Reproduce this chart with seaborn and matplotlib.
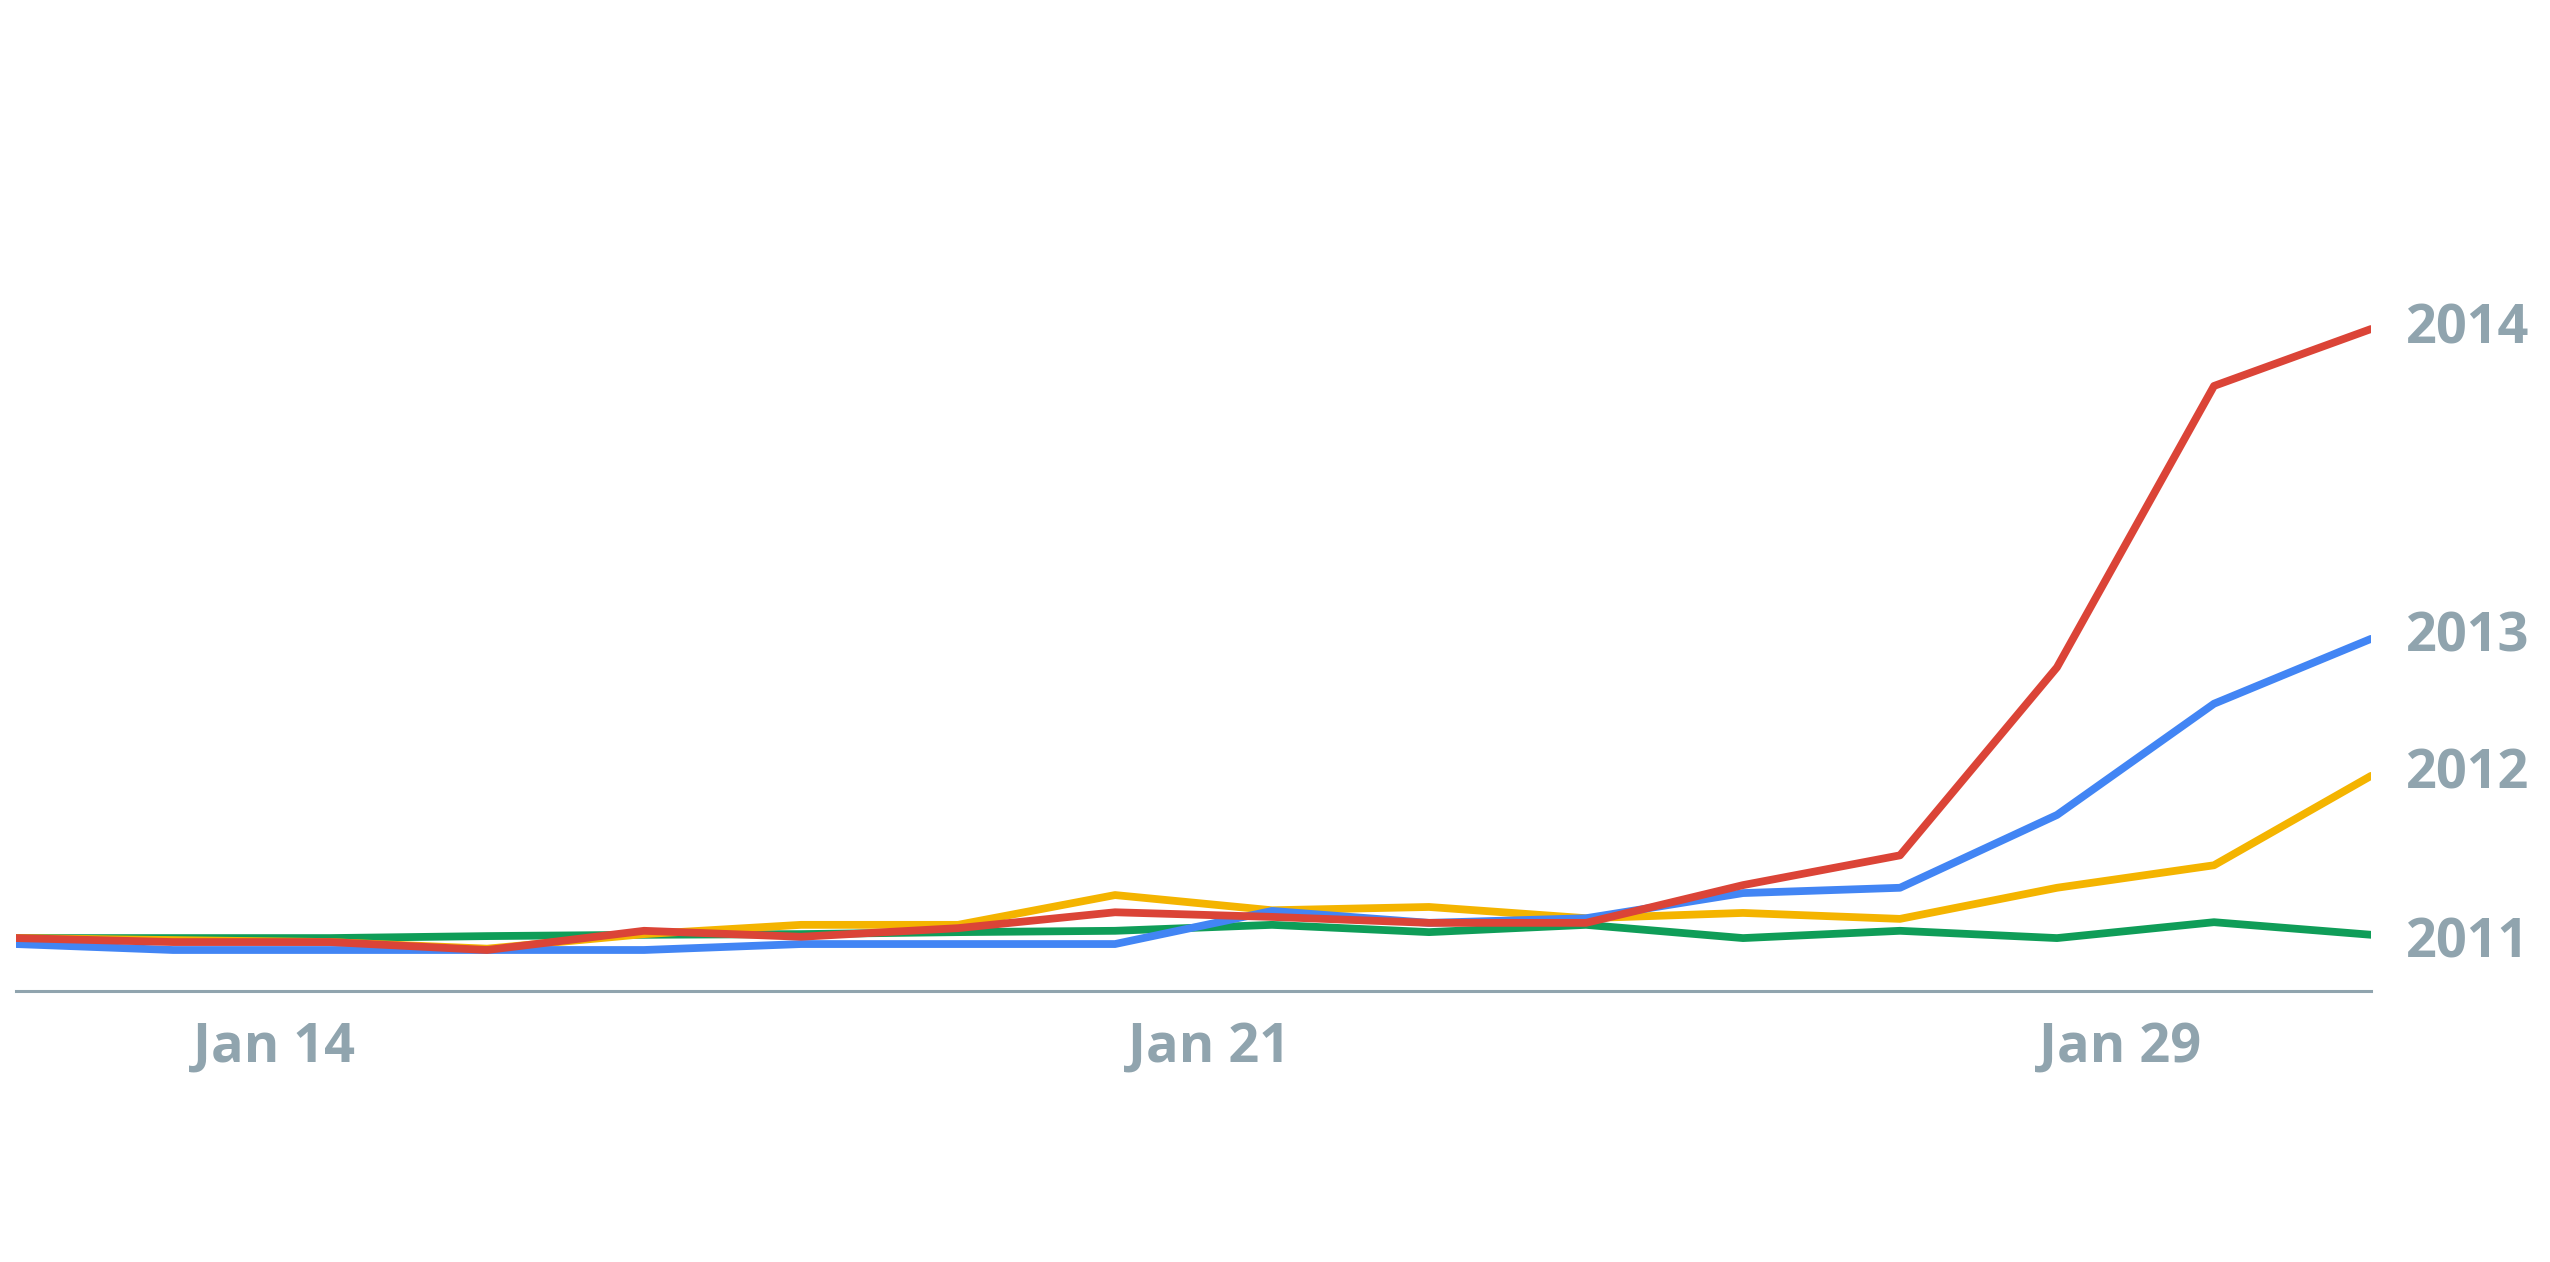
import pandas as pd
import seaborn as sns
import matplotlib.pyplot as plt

# search interest per sample point
points = list(range(16))
y2011 = [8.0, 8.0, 8.0, 8.3, 8.5, 8.6, 8.9, 9.1, 10.0, 8.9, 10.0, 8.0, 9.1, 8.0, 10.4, 8.5]
y2012 = [8.0, 7.7, 7.4, 6.4, 8.6, 10.0, 10.0, 14.5, 12.2, 12.7, 11.0, 11.8, 10.9, 15.6, 19.0, 32.5]
y2013 = [7.1, 6.2, 6.2, 6.2, 6.2, 7.1, 7.1, 7.1, 12.1, 10.3, 11.0, 14.8, 15.6, 26.6, 43.4, 53.2]
y2014 = [8.0, 7.4, 7.4, 6.2, 9.1, 8.2, 9.5, 11.9, 11.2, 10.3, 10.3, 16.0, 20.5, 48.9, 91.4, 100.0]
years = ['2011', '2012', '2013', '2014']
tick_pos = [1.64, 7.6, 13.4]
tick_labels = ['Jan 14', 'Jan 21', 'Jan 29']

colors = {'2011': '#0F9D58', '2012': '#F4B400', '2013': '#4285F4', '2014': '#DB4437'}
grey = '#90A4AE'

df = pd.DataFrame({'point': points * 4,
                   'value': y2011 + y2012 + y2013 + y2014,
                   'year': [y for y in years for _ in points]})

sns.set_style('white')
plt.rcParams['font.family'] = ['Open Sans', 'DejaVu Sans']
plt.rcParams['font.weight'] = 'bold'

fig = plt.figure(figsize=(25.5, 12.62), dpi=100)
ax = fig.add_axes([0.0063, 0.2147, 0.9235, 0.6295])
sns.lineplot(data=df, x='point', y='value', hue='year', palette=colors,
             linewidth=5.6, legend=False, ax=ax, solid_capstyle='round',
             solid_joinstyle='round')

ax.set_xlim(0, 15)
ax.set_ylim(0, 120)
ax.set_xlabel('')
ax.set_ylabel('')
ax.set_yticks([])
ax.set_xticks(tick_pos)
ax.set_xticklabels(tick_labels, fontsize=39, color=grey, fontweight='bold')
ax.tick_params(axis='x', length=0, pad=21)
for s in ['top', 'right', 'left']:
    ax.spines[s].set_visible(False)
ax.spines['bottom'].set_color(grey)
ax.spines['bottom'].set_linewidth(2.2)

ends = {'2011': y2011[-1], '2012': y2012[-1], '2013': y2013[-1], '2014': y2014[-1]}
nudge = {'2011': -6, '2012': 1, '2013': 1, '2014': 0}
for yr in years:
    ax.annotate(yr, xy=(points[-1], ends[yr]), xytext=(25, nudge[yr]), textcoords='offset points',
                ha='left', va='center', fontsize=39, color=grey, fontweight='bold',
                annotation_clip=False)

fig.savefig('out.png', dpi=100, facecolor='white')
